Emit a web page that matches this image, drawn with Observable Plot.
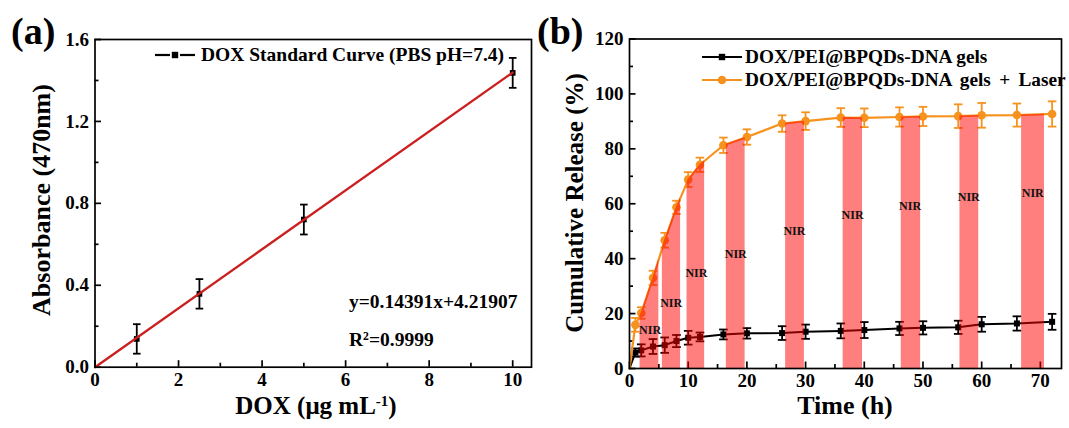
<!DOCTYPE html>
<html><head><meta charset="utf-8">
<script src="https://cdn.jsdelivr.net/npm/d3@7"></script>
<script src="https://cdn.jsdelivr.net/npm/@observablehq/plot@0.6"></script>
<style>
body{margin:0;background:#fff;}
#wrap{position:relative;width:1069px;height:428px;overflow:hidden;font-family:"Liberation Serif","Times New Roman",serif;font-weight:bold;color:#000;background:#fff;}
.abs{position:absolute;white-space:nowrap;line-height:1;}
.plot{position:absolute;top:0;}
sup{font-size:0.6em;vertical-align:baseline;position:relative;top:-0.55em;}
</style></head><body><div id="wrap"></div>
<script>
// ---------- Panel (a) data ----------
const doxConc = [1, 2.5, 5, 10];
const absorbance = [0.138, 0.358, 0.721, 1.437];
const absorbanceErr = [0.072, 0.072, 0.073, 0.073];
const fitConc = [0, 10];
const fitAbs = [0, 1.439];
const xTicksA = [0, 2, 4, 6, 8, 10];
const xMinorA = [1, 3, 5, 7, 9];
const yTicksA = [0, 0.4, 0.8, 1.2, 1.6];
const yMinorA = [0.2, 0.6, 1.0, 1.4];

// ---------- Panel (b) data ----------
const timeH = [0, 1, 2, 4, 6, 8, 10, 12, 16, 20, 26, 30, 36, 40, 46, 50, 56, 60, 66, 72];
const releaseGel = [0, 5.8, 6.6, 8.0, 8.5, 10.0, 11.2, 11.5, 12.4, 12.8, 12.9, 13.4, 13.7, 14.0, 14.6, 14.8, 15.0, 16.1, 16.4, 17.0];
const releaseGelErr = [0, 1.5, 2.2, 2.7, 2.8, 2.2, 2.5, 1.6, 1.8, 1.9, 2.5, 2.6, 2.7, 2.9, 2.4, 2.4, 2.4, 2.7, 2.6, 2.9];
const releaseLaser = [0, 15.9, 20.2, 33.0, 46.7, 58.7, 68.8, 74.2, 81.3, 84.3, 89.2, 90.1, 91.4, 91.3, 91.6, 91.8, 91.9, 92.2, 92.3, 92.7];
const releaseLaserErr = [0, 2.5, 2.1, 2.6, 2.7, 2.4, 2.7, 2.6, 2.8, 2.8, 3.0, 3.2, 3.4, 3.4, 3.5, 3.5, 4.3, 4.5, 4.2, 4.6];
const nirStart = [1.8, 5.6, 9.8, 16.5, 26.6, 36.4, 46.3, 56.3, 66.8];
const nirEnd = [5.0, 8.7, 12.8, 19.7, 29.8, 39.7, 49.6, 59.5, 70.7];
const nirLabelX = [3.5, 7.1, 11.4, 18.1, 28.1, 38.0, 47.8, 57.8, 68.7];
const nirLabelY = [13.8, 23.8, 34.8, 41.5, 50.1, 55.9, 59.0, 62.3, 64.0];
const xTicksB = [0, 10, 20, 30, 40, 50, 60, 70];
const xMinorB = [5, 15, 25, 35, 45, 55, 65];
const yTicksB = [0, 20, 40, 60, 80, 100, 120];
const yMinorB = [10, 30, 50, 70, 90, 110];

// ---------- texts ----------
const panelA = "(a)", panelB = "(b)";
const legendA = "DOX Standard Curve (PBS pH=7.4)";
const legendB = ["DOX/PEI@BPQDs-DNA gels", "DOX/PEI@BPQDs-DNA gels + Laser"];
const eqText = "y=0.14391x+4.21907";
const r2Text = "R<sup>2</sup>=0.9999";
const yTitleA = "Absorbance (470nm)";
const xTitleA = "DOX (μg mL<sup>-1</sup>)";
const yTitleB = "Cumulative Release (%)";
const xTitleB = "Time (h)";

const FONT = '"Liberation Serif","Times New Roman",serif';
const BLACK = "#000", ORANGE = "#f6921e", RED = "#cc1f1f";
const capSymbol = {draw(ctx, size) { const h = Math.sqrt(size / Math.PI); ctx.moveTo(-h, 0); ctx.lineTo(h, 0); }};

function axes(xt, xm, yt, ym, yfmt, xfmt) {
  return [
    Plot.axisX(xt, {anchor: "bottom", tickSize: 0, tickPadding: 5, fontSize: 19, label: null, tickFormat: xfmt}),
    Plot.axisX(xt, {anchor: "bottom", tickSize: -6.5, text: null, label: null, strokeWidth: 1.7}),
    Plot.axisX(xm, {anchor: "bottom", tickSize: -4, text: null, label: null, strokeWidth: 1.7}),
    Plot.axisY(yt, {anchor: "left", tickSize: 0, tickPadding: 6, fontSize: 19, label: null, tickFormat: yfmt}),
    Plot.axisY(yt, {anchor: "left", tickSize: -6.5, text: null, label: null, strokeWidth: 1.7}),
    Plot.axisY(ym, {anchor: "left", tickSize: -4, text: null, label: null, strokeWidth: 1.7})
  ];
}
function errorMarks(data, color, capR, sw) {
  return [
    Plot.ruleX(data, {x: "x", y1: d => d.y - d.e, y2: d => d.y + d.e, stroke: color, strokeWidth: sw}),
    Plot.dot(data, {x: "x", y: d => d.y - d.e, symbol: capSymbol, r: capR, stroke: color, strokeWidth: sw, fill: "none"}),
    Plot.dot(data, {x: "x", y: d => d.y + d.e, symbol: capSymbol, r: capR, stroke: color, strokeWidth: sw, fill: "none"})
  ];
}

// ---------- Panel (a) ----------
const dataA = doxConc.map((x, i) => ({x, y: absorbance[i], e: absorbanceErr[i]}));
const fitA = fitConc.map((x, i) => ({x, y: fitAbs[i]}));
const plotA = Plot.plot({
  width: 535, height: 428,
  marginLeft: 94.5, marginRight: 4, marginTop: 39, marginBottom: 61.3,
  x: {domain: [0, 10.45]},
  y: {domain: [0, 1.6]},
  style: {fontFamily: FONT, fontWeight: "bold", fontSize: "19px", color: "#000", background: "transparent", overflow: "visible"},
  marks: [
    ...axes(xTicksA, xMinorA, yTicksA, yMinorA, d3.format(".1f"), d3.format("d")),
    ...errorMarks(dataA, BLACK, 3.8, 1.8),
    Plot.dot(dataA, {x: "x", y: "y", symbol: "square", r: 3.2, fill: BLACK}),
    Plot.line(fitA, {x: "x", y: "y", stroke: RED, strokeWidth: 2.3}),
    Plot.frame({stroke: BLACK, strokeWidth: 1.7})
  ]
});

// ---------- Panel (b) ----------
const gel = timeH.map((x, i) => ({x, y: releaseGel[i], e: releaseGelErr[i]}));
const laser = timeH.map((x, i) => ({x, y: releaseLaser[i], e: releaseLaserErr[i]}));
const interp = d3.scaleLinear().domain(timeH).range(releaseLaser);
const barData = [];
nirStart.forEach((a, k) => {
  const b = nirEnd[k];
  const ts = [a, ...timeH.filter(t => t > a && t < b), b];
  ts.forEach(t => barData.push({bar: k, t, v: interp(t)}));
});
const nirLabels = nirLabelX.map((x, i) => ({x, y: nirLabelY[i]}));
const plotB = Plot.plot({
  width: 534, height: 428,
  marginLeft: 94, marginRight: 8, marginTop: 38.5, marginBottom: 60,
  x: {domain: [0, 73.6]},
  y: {domain: [0, 120]},
  style: {fontFamily: FONT, fontWeight: "bold", fontSize: "19px", color: "#000", background: "transparent", overflow: "visible"},
  marks: [
    ...axes(xTicksB, xMinorB, yTicksB, yMinorB, d3.format("d"), d3.format("d")),
    Plot.line(gel, {x: "x", y: "y", stroke: BLACK, strokeWidth: 2}),
    ...errorMarks(gel.filter(d => d.x > 0), BLACK, 4.3, 1.8),
    Plot.dot(gel.filter(d => d.x > 0), {x: "x", y: "y", symbol: "square", r: 3.4, fill: BLACK}),
    Plot.line(laser, {x: "x", y: "y", stroke: ORANGE, strokeWidth: 2.2}),
    ...errorMarks(laser.filter(d => d.x > 0), ORANGE, 4.3, 1.8),
    Plot.dot(laser.filter(d => d.x > 0), {x: "x", y: "y", r: 4.3, fill: ORANGE}),
    Plot.areaY(barData, {x: "t", y: "v", z: "bar", fill: "#f00", fillOpacity: 0.5, curve: "linear"}),
    Plot.text(nirLabels, {x: "x", y: "y", text: () => "NIR", fontSize: 12, fill: "#111"}),
    Plot.frame({stroke: BLACK, strokeWidth: 1.7})
  ]
});

const wrap = document.getElementById("wrap");
plotA.classList.add("plot"); plotA.style.left = "0px";
plotB.classList.add("plot"); plotB.style.left = "535px";
wrap.appendChild(plotA); wrap.appendChild(plotB);

function addText(html, left, baseline, fs, extra = {}) {
  const d = document.createElement("div");
  d.className = "abs";
  d.innerHTML = html;
  d.style.fontSize = fs + "px";
  d.style.left = left + "px";
  d.style.top = (baseline - 0.837 * fs) + "px";
  Object.assign(d.style, extra);
  wrap.appendChild(d);
  return d;
}
function addCentered(html, cx, cy, fs, rotate) {
  const d = document.createElement("div");
  d.className = "abs";
  d.innerHTML = html;
  d.style.fontSize = fs + "px";
  d.style.left = cx + "px";
  d.style.top = cy + "px";
  d.style.transform = "translate(-50%,-50%)" + (rotate ? " rotate(-90deg)" : "");
  wrap.appendChild(d);
  return d;
}
function legendGlyph(left, cy, color, symbol, gapped) {
  const s = document.createElementNS("http://www.w3.org/2000/svg", "svg");
  s.setAttribute("width", 40); s.setAttribute("height", 12);
  s.style.position = "absolute"; s.style.left = left + "px"; s.style.top = (cy - 6) + "px";
  const line = gapped
    ? `<line x1="0" y1="6" x2="15" y2="6" stroke="${color}" stroke-width="2.2"/><line x1="25" y1="6" x2="40" y2="6" stroke="${color}" stroke-width="2.2"/>`
    : `<line x1="0" y1="6" x2="40" y2="6" stroke="${color}" stroke-width="2.2"/>`;
  const marker = symbol === "square"
    ? `<rect x="16.8" y="2.8" width="6.4" height="6.4" fill="${color}"/>`
    : `<circle cx="20" cy="6" r="4.3" fill="${color}"/>`;
  s.innerHTML = line + marker;
  wrap.appendChild(s);
}

// panel tags
addText(panelA, 11, 44, 38);
addText(panelB, 537, 44, 38);
// legend (a)
legendGlyph(155, 55, BLACK, "square", true);
addText(legendA, 201, 61.5, 19.5);
// equation
addText(eqText, 349, 308.5, 19.5);
addText(r2Text, 349, 346.5, 19.5);
// legend (b)
legendGlyph(702, 56.7, BLACK, "square", false);
addText(legendB[0], 745, 63.2, 19.3);
legendGlyph(702, 80, ORANGE, "circle", false);
addText(legendB[1], 745, 86.5, 19.3, {wordSpacing: "3.5px"});
// axis titles
addCentered(yTitleA, 42, 200, 26, true);
addCentered(xTitleA, 316, 405, 25);
addCentered(yTitleB, 574, 203, 25, true);
addCentered(xTitleB, 845, 406, 26);
</script></body></html>
